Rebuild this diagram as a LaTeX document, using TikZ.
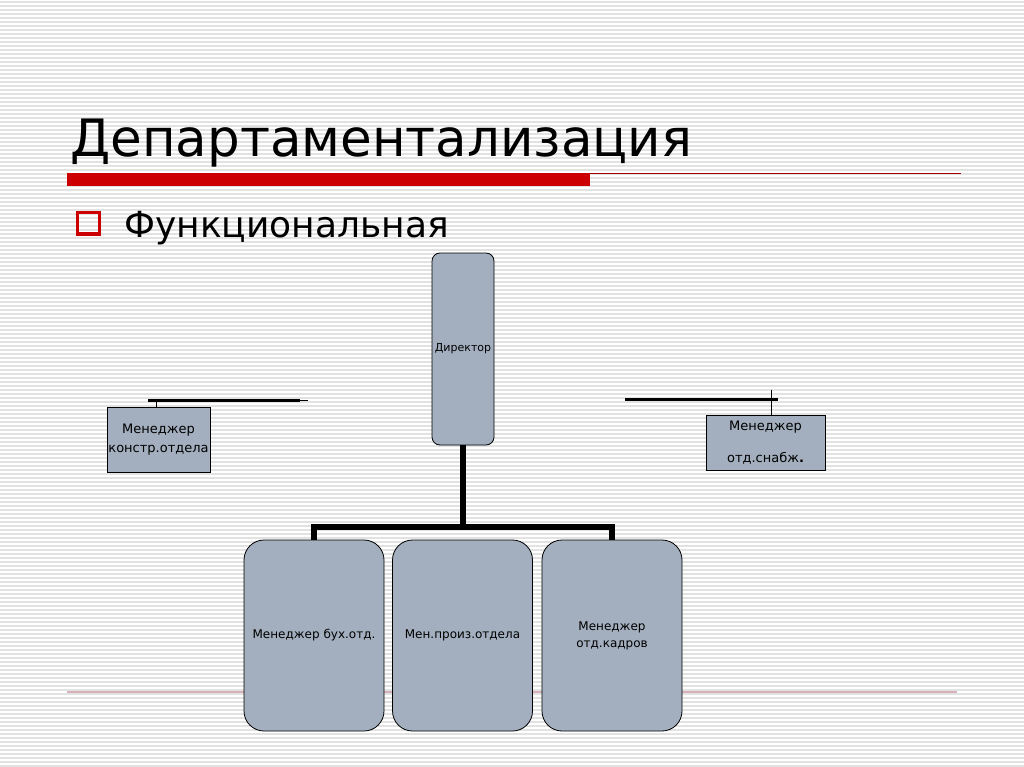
\documentclass[tikz,border=0pt]{standalone}
\usepackage{fontspec}
\setmainfont{DejaVu Sans}
\usetikzlibrary{positioning}
\definecolor{boxfill}{RGB}{163,175,190}
\definecolor{titlered}{RGB}{204,0,0}
\definecolor{pinkline}{RGB}{214,176,184}
\definecolor{stripe}{RGB}{226,226,226}

\tikzset{
  unit/.style={draw=black, fill=boxfill, line width=0.8pt, align=center, inner sep=1pt},
  roundunit/.style={unit, rounded corners=20pt, minimum width=140pt, minimum height=191pt, font=\fontsize{12}{17}\selectfont},
  link/.style={line width=5.5pt},
  thinlink/.style={line width=0.8pt}
}

\begin{document}
\begin{tikzpicture}[x=1pt, y=-1pt]
  % background with stripes
  \useasboundingbox (0,0) rectangle (1024,767);
  \fill[white] (0,0) rectangle (1024,767);
  \foreach \yy in {2,6,...,766}
    \draw[stripe, line width=1.3pt] (0,\yy) -- (1024,\yy);
  % title and rules
  \node[anchor=base west, inner sep=0pt, font=\fontsize{51.5}{60}\selectfont] (title) at (70,157) {Департаментализация};
  \fill[titlered] (67,173) rectangle (590,186);
  \draw[titlered!80!black, line width=1pt] (590,174) -- (961,174);
  \draw[pinkline, line width=1.3pt] (67,692) -- (957,692);
  % bullet
  \draw[titlered, line width=3pt] (77.5,212.5) rectangle (99,234);
  \node[anchor=base west, inner sep=0pt, font=\fontsize{36}{42}\selectfont] (sub) at (124,237) {Функциональная};
  % director and staff
  \node[unit, rounded corners=8pt, minimum width=62pt, minimum height=192pt, font=\fontsize{11}{13}\selectfont] (dir) at (463,349) {Директор};
  \node[roundunit] (buh) at (314,635.5) {Менеджер бух.отд.};
  \node[roundunit] (proiz) at (462.5,635.5) {Мен.произ.отдела};
  \node[roundunit] (kadr) at (612,635.5) {Менеджер\\отд.кадров};
  \node[unit, minimum width=103pt, minimum height=65pt, font=\fontsize{13}{19}\selectfont] (konstr) at (158.5,439.5) {Менеджер\\констр.отдела};
  \node[unit, minimum width=119pt, minimum height=55pt, font=\fontsize{13}{32}\selectfont] (snab) at (765.5,442.5) {Менеджер\\отд.снабж\textbf{.}};
  % tree links
  \coordinate (bus) at (463,527);
  \draw[link] (dir.south) -- (bus);
  \draw[link] (bus) -| (buh.north);
  \draw[link] (bus) -| (kadr.north);
  % side links
  \coordinate (lefta) at (148,400);
  \coordinate (leftb) at (300,400);
  \coordinate (leftc) at (308,400);
  \draw[line width=3pt] (lefta) -- (leftb);
  \draw[thinlink] (leftb) -- (leftc);
  \draw[thinlink] (konstr.north -| 156,0) -- (156,400);
  \coordinate (righta) at (625,399);
  \coordinate (rightb) at (778,399);
  \draw[line width=3pt] (righta) -- (rightb);
  \draw[thinlink] (snab.north -| 771,0) -- (771,390);
\end{tikzpicture}
\end{document}
